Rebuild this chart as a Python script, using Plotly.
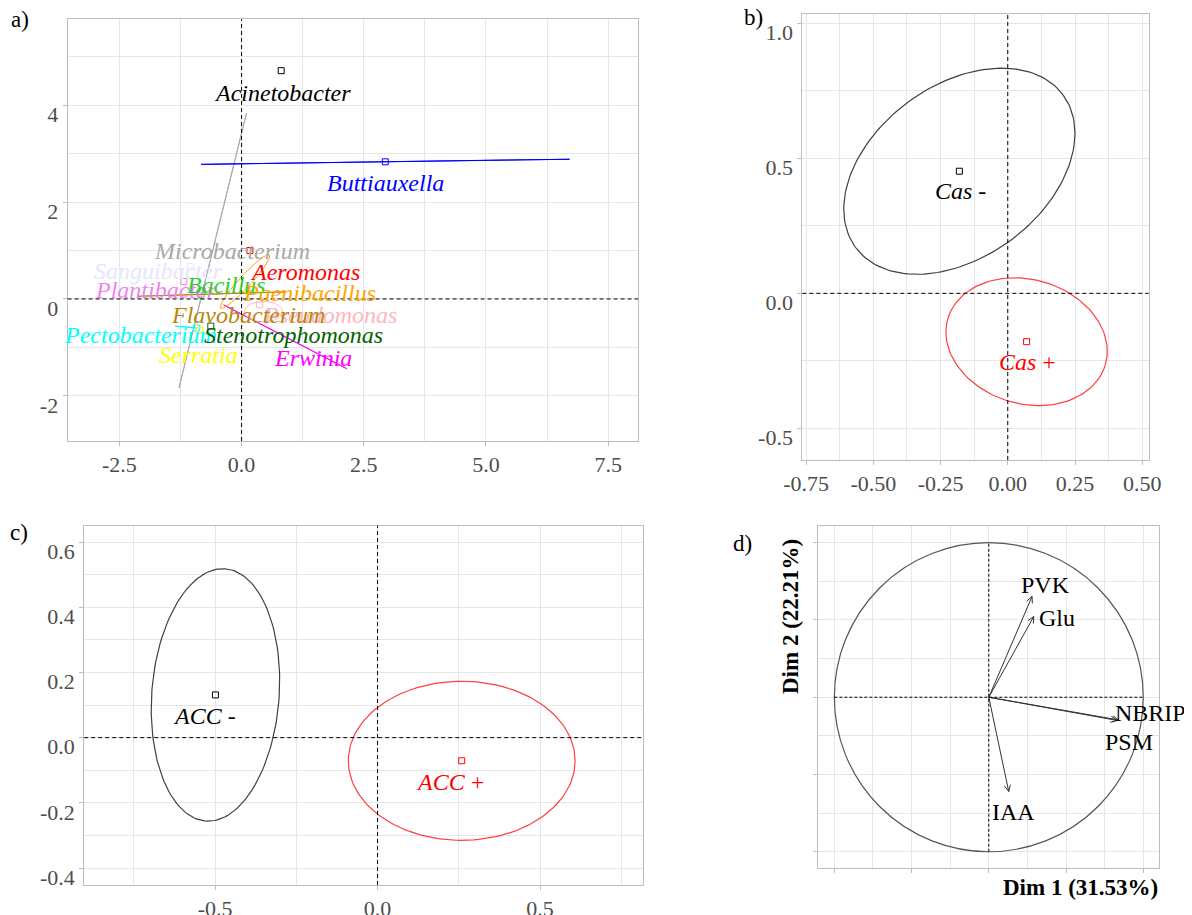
import numpy as np
import plotly.graph_objects as go

FONT = "Liberation Serif"
GRID = "#E6E6E6"
BORDER = "#BDBDBD"
TICKCOL = "#4D4D4D"
W, H = 1184, 907   # page body keeps an 8px margin, so the figure fits the 1192x915 window

# ---------------- panel a : genera ----------------
genus_names = ["Acinetobacter", "Buttiauxella", "Microbacterium", "Sanguibacter", "Aeromonas",
               "Plantibacter", "Bacillus", "Paenibacillus", "Pseudomonas", "Flavobacterium",
               "Pectobacterium", "Stenotrophomonas", "Serratia", "Erwinia"]
genus_colors = ["#000000", "#0000FF", "#A9A9A9", "#E6E6FA", "#FF0000",
                "#EE82EE", "#2ECC2E", "#FFA500", "#FFB6C1", "#B8860B",
                "#00FFFF", "#006400", "#FFFF00", "#FF00FF"]
label_x = [0.83, 2.95, -0.19, -1.70, 1.30, -1.75, -0.30, 1.39, 1.81, 0.14, -2.06, 1.06, -0.88, 1.47]
label_y = [4.25, 2.39, 1.00, 0.58, 0.56, 0.19, 0.29, 0.12, -0.33, -0.33, -0.74, -0.74, -1.15, -1.22]

# centroid squares that can be seen
pt_genus = ["Acinetobacter", "Buttiauxella", "Aeromonas", "Sanguibacter", "Plantibacter",
            "Pectobacterium", "Serratia", "Stenotrophomonas", "Pseudomonas"]
pt_x = [0.81, 2.94, 0.17, -1.05, -1.18, -0.92, -0.85, -0.63, 0.37]
pt_y = [4.71, 2.83, 1.00, 0.67, 0.36, -0.60, -0.65, -0.56, -0.12]

# confidence ellipses: centre, semi axes, angle (deg)
ell_genus = ["Microbacterium", "Buttiauxella", "Flavobacterium", "Erwinia", "Pectobacterium",
             "Paenibacillus", "Pseudomonas", "Bacillus"]
ell_cx = [-0.59, 2.94, -0.62, 0.89, -1.14, 0.07, 0.45, -0.84]
ell_cy = [1.00, 2.83, 0.10, -0.78, -0.58, 0.36, -0.26, 0.12]
ell_a = [2.92, 3.77, 1.52, 1.42, 0.22, 0.74, 0.39, 0.12]
ell_b = [0.004, 0.004, 0.004, 0.004, 0.004, 0.12, 0.21, 0.08]
ell_ang = [76.3, 0.8, 1.7, -27.6, -5.0, 47.7, 0.0, 90.0]

a_xticks = [-2.5, 0.0, 2.5, 5.0, 7.5]
a_xtext = ["-2.5", "0.0", "2.5", "5.0", "7.5"]
a_yticks = [-2, 0, 2, 4]
a_ytext = ["-2", "0", "2", "4"]

# ---------------- panel b : Cas ----------------
cas_groups = ["<i>Cas</i> -", "<i>Cas</i> +"]
cas_colors = ["#000000", "#FF0000"]
cas_x = [-0.18, 0.07]
cas_y = [0.452, -0.179]
cas_a = [0.478, 0.305]
cas_b = [0.319, 0.230]
cas_ang = [36.0, -16.0]
b_xticks = [-0.75, -0.50, -0.25, 0.00, 0.25, 0.50]
b_xtext = ["-0.75", "-0.50", "-0.25", "0.00", "0.25", "0.50"]
b_yticks = [-0.5, 0.0, 0.5, 1.0]
b_ytext = ["-0.5", "0.0", "0.5", "1.0"]

# ---------------- panel c : ACC ----------------
acc_groups = ["<i>ACC</i> -", "<i>ACC</i> +"]
acc_colors = ["#000000", "#FF0000"]
acc_x = [-0.499, 0.259]
acc_y = [0.131, -0.071]
acc_a = [0.388, 0.349]
acc_b = [0.196, 0.244]
acc_ang = [85.6, 0.0]
c_xticks = [-0.5, 0.0, 0.5]
c_xtext = ["-0.5", "0.0", "0.5"]
c_yticks = [-0.4, -0.2, 0.0, 0.2, 0.4, 0.6]
c_ytext = ["-0.4", "-0.2", "0.0", "0.2", "0.4", "0.6"]

# ---------------- panel d : variables ----------------
var_names = ["PVK", "Glu", "NBRIP", "PSM", "IAA"]
var_x = [0.280, 0.291, 0.841, 0.830, 0.129]
var_y = [0.652, 0.522, -0.147, -0.150, -0.610]
var_lab_x = [0.367, 0.44, 1.05, 0.906, 0.162]
var_lab_y = [0.727, 0.51, -0.104, -0.291, -0.740]
dim1_title = "Dim 1 (31.53%)"
dim2_title = "Dim 2 (22.21%)"


def fx(px):
    return (px - 8) / W


def fy(py):
    return 1 - (py - 8) / H


def ellipse(cx, cy, a, b, ang, n=160):
    t = np.linspace(0, 2 * np.pi, n)
    th = np.radians(ang)
    x = cx + a * np.cos(t) * np.cos(th) - b * np.sin(t) * np.sin(th)
    y = cy + a * np.cos(t) * np.sin(th) + b * np.sin(t) * np.cos(th)
    return x, y


fig = go.Figure()
annots = []
shapes = []


def text(x, y, s, col, xr, yr, size=24, **kw):
    annots.append(dict(x=x, y=y, xref=xr, yref=yr, text=s, showarrow=False,
                       xanchor="center", yanchor="middle",
                       font=dict(family=FONT, size=size, color=col), **kw))


def dashed(xr, yr, full=True):
    if full:
        shapes.append(dict(type="line", xref=xr + " domain", yref=yr, x0=0, x1=1, y0=0, y1=0,
                           line=dict(color="black", width=1, dash="4px,3px"), layer="above"))
        shapes.append(dict(type="line", xref=xr, yref=yr + " domain", x0=0, x1=0, y0=0, y1=1,
                           line=dict(color="black", width=1, dash="4px,3px"), layer="above"))
    else:
        shapes.append(dict(type="line", xref=xr, yref=yr, x0=-1, x1=1, y0=0, y1=0,
                           line=dict(color="black", width=1, dash="3px,2px"), layer="above"))
        shapes.append(dict(type="line", xref=xr, yref=yr, x0=0, x1=0, y0=-1, y1=1,
                           line=dict(color="black", width=1, dash="3px,2px"), layer="above"))


# panel a
col_of = dict(zip(genus_names, genus_colors))
for g, cx, cy, a, b, ang in zip(ell_genus, ell_cx, ell_cy, ell_a, ell_b, ell_ang):
    ex, ey = ellipse(cx, cy, a, b, ang)
    fig.add_trace(go.Scatter(x=ex, y=ey, mode="lines", line=dict(color=col_of[g], width=1),
                             xaxis="x", yaxis="y", showlegend=False, hoverinfo="skip"))
fig.add_trace(go.Scatter(x=pt_x, y=pt_y, mode="markers", xaxis="x", yaxis="y", showlegend=False,
                         marker=dict(symbol="square-open", size=6, line=dict(width=1),
                                     color=[col_of[g] for g in pt_genus])))
for g, c, lx, ly in zip(genus_names, genus_colors, label_x, label_y):
    text(lx, ly, "<i>" + g + "</i>", c, "x", "y")
dashed("x", "y")

# panel b
for g, c, cx, cy, a, b, ang in zip(cas_groups, cas_colors, cas_x, cas_y, cas_a, cas_b, cas_ang):
    ex, ey = ellipse(cx, cy, a, b, ang)
    fig.add_trace(go.Scatter(x=ex, y=ey, mode="lines", line=dict(color=c, width=1.2), opacity=0.75,
                             xaxis="x2", yaxis="y2", showlegend=False, hoverinfo="skip"))
    fig.add_trace(go.Scatter(x=[cx], y=[cy], mode="markers", xaxis="x2", yaxis="y2", showlegend=False,
                             marker=dict(symbol="square-open", size=6, color=c, line=dict(width=1))))
    text(cx + 0.003, cy - 0.075, g, c, "x2", "y2")
dashed("x2", "y2")

# panel c
for g, c, cx, cy, a, b, ang in zip(acc_groups, acc_colors, acc_x, acc_y, acc_a, acc_b, acc_ang):
    ex, ey = ellipse(cx, cy, a, b, ang)
    fig.add_trace(go.Scatter(x=ex, y=ey, mode="lines", line=dict(color=c, width=1.2), opacity=0.75,
                             xaxis="x3", yaxis="y3", showlegend=False, hoverinfo="skip"))
    fig.add_trace(go.Scatter(x=[cx], y=[cy], mode="markers", xaxis="x3", yaxis="y3", showlegend=False,
                             marker=dict(symbol="square-open", size=6, color=c, line=dict(width=1))))
    text(cx - 0.035, cy - 0.066, g, c, "x3", "y3")
dashed("x3", "y3")

# panel d
shapes.append(dict(type="circle", xref="x4", yref="y4", x0=-1, x1=1, y0=-1, y1=1,
                   line=dict(color="#555555", width=1.2)))
dashed("x4", "y4", full=False)
for n, vx, vy, lx, ly in zip(var_names, var_x, var_y, var_lab_x, var_lab_y):
    ang = np.arctan2(vy, vx)
    hx = [vx + 0.045 * np.cos(ang + np.pi - 0.45), vx, vx + 0.045 * np.cos(ang + np.pi + 0.45)]
    hy = [vy + 0.045 * np.sin(ang + np.pi - 0.45), vy, vy + 0.045 * np.sin(ang + np.pi + 0.45)]
    fig.add_trace(go.Scatter(x=[0, vx], y=[0, vy], mode="lines", line=dict(color="#333333", width=1),
                             xaxis="x4", yaxis="y4", showlegend=False, hoverinfo="skip"))
    fig.add_trace(go.Scatter(x=hx, y=hy, mode="lines", line=dict(color="#333333", width=1),
                             xaxis="x4", yaxis="y4", showlegend=False, hoverinfo="skip"))
    text(lx, ly, n, "black", "x4", "y4")

# panel letters and axis titles of d
for s, px, py in [("a)", 20, 20), ("b)", 753, 18), ("c)", 19, 532), ("d)", 742, 543)]:
    text(fx(px), fy(py), s, "black", "paper", "paper", size=23)
text(fx(1080), fy(887), "<b>" + dim1_title + "</b>", "black", "paper", "paper", size=23)
text(fx(790), fy(617), "<b>" + dim2_title + "</b>", "black", "paper", "paper", size=23,
     textangle=-90)


def axis(x0, x1, anchor, rng, tv, tt, dminor, labels=True, vertical=False):
    dom = [fy(x1), fy(x0)] if vertical else [fx(x0), fx(x1)]
    ax = dict(domain=dom, anchor=anchor, range=rng, tickvals=tv, ticktext=tt,
              showticklabels=labels, showline=True, linecolor=BORDER, linewidth=1, mirror=True,
              showgrid=True, gridcolor=GRID, gridwidth=1, zeroline=False, automargin=False,
              ticks="outside", ticklen=4, tickcolor=BORDER,
              tickfont=dict(family=FONT, size=22, color=TICKCOL),
              minor=dict(dtick=dminor, showgrid=True, gridcolor=GRID, gridwidth=1, ticks=""))
    if vertical:
        ax["ticklabelshift"] = 9   # labels sit a little below their grid lines in the original
    return ax


fig.update_layout(
    width=W, height=H, margin=dict(l=0, r=0, t=0, b=0),
    font=dict(family=FONT),
    paper_bgcolor="white", plot_bgcolor="white", showlegend=False,
    xaxis=axis(67.6, 638, "y", [-3.56, 8.11], a_xticks, a_xtext, 1.25),
    yaxis=axis(19.3, 441, "x", [-2.93, 5.77], a_yticks, a_ytext, 1, vertical=True),
    xaxis2=axis(802.3, 1148.7, "y2", [-0.764, 0.524], b_xticks, b_xtext, 0.125),
    yaxis2=axis(14, 460, "x2", [-0.617, 1.034], b_yticks, b_ytext, 0.25, vertical=True),
    xaxis3=axis(84.2, 643, "y3", [-0.903, 0.817], c_xticks, c_xtext, 0.25),
    yaxis3=axis(525.7, 885, "x3", [-0.452, 0.650], c_yticks, c_ytext, 0.1, vertical=True),
    xaxis4=axis(818.3, 1159.3, "y4", [-1.104, 1.104], [-1, -0.5, 0, 0.5, 1], None, 0.25, False),
    yaxis4=axis(526, 868.3, "x4", [-1.107, 1.108], [-1, -0.5, 0, 0.5, 1], None, 0.25, False,
                vertical=True),
    annotations=annots, shapes=shapes,
)

fig.write_html("out.html")
